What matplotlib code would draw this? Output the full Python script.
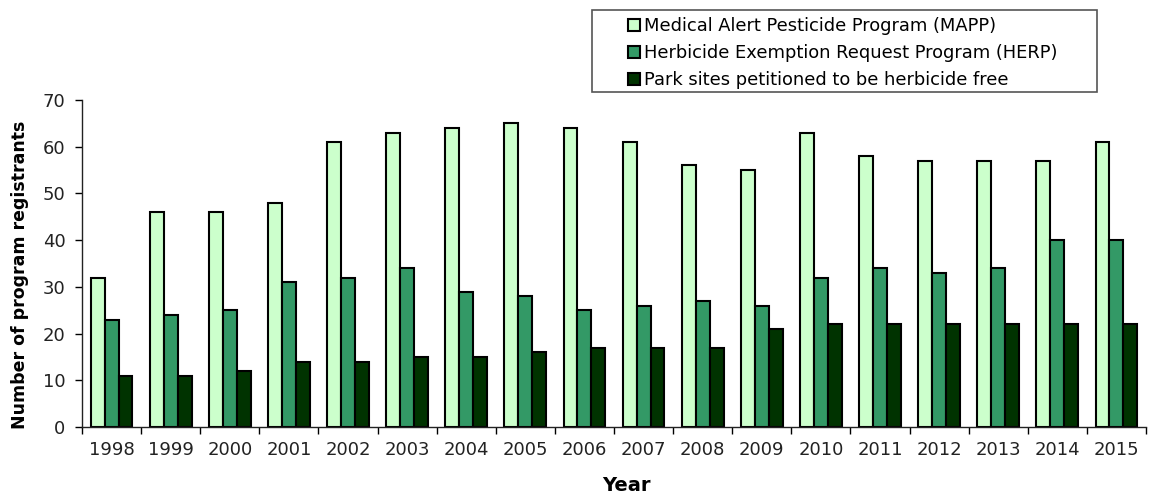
import numpy as np
import matplotlib
matplotlib.use("Agg")
import matplotlib.pyplot as plt
from matplotlib.patches import Rectangle

plt.rcParams['font.family'] = ['DejaVu Sans']

years = [str(y) for y in range(1998, 2016)]
mapp = [32, 46, 46, 48, 61, 63, 64, 65, 64, 61, 56, 55, 63, 58, 57, 57, 57, 61]
herp = [23, 24, 25, 31, 32, 34, 29, 28, 25, 26, 27, 26, 32, 34, 33, 34, 40, 40]
parks = [11, 11, 12, 14, 14, 15, 15, 16, 17, 17, 17, 21, 22, 22, 22, 22, 22, 22]

series = [
    ("Medical Alert Pesticide Program (MAPP)", mapp, "#ccffcc"),
    ("Herbicide Exemption Request Program (HERP)", herp, "#339966"),
    ("Park sites petitioned to be herbicide free", parks, "#003300"),
]

W, H = 1154, 497
fig = plt.figure(figsize=(W / 100, H / 100), dpi=100)
ax = fig.add_axes([82 / W, 1 - 427 / H, 1064 / W, 327 / H])

x = np.arange(len(years))
w = 0.235
for i, (name, vals, col) in enumerate(series):
    ax.bar(x + (i - 1) * w, vals, w, color=col, edgecolor="black",
           linewidth=1.5, label=name)

ax.set_xlim(-0.5, len(years) - 0.5)
ax.set_ylim(0, 70)
ax.set_yticks(range(0, 71, 10))
ax.set_xticks(x)
ax.set_xticklabels(years)
ax.set_xticks(np.arange(-0.5, len(years), 1), minor=True)
ax.tick_params(axis="x", which="major", length=0, labelsize=13, pad=10, labelcolor="#222222")
ax.tick_params(axis="x", which="minor", length=5, width=1, direction="out")
ax.tick_params(axis="y", length=5, width=1, labelsize=13, labelcolor="#222222", pad=7)

for s in ["top", "right"]:
    ax.spines[s].set_visible(False)
for s in ["left", "bottom"]:
    ax.spines[s].set_linewidth(1)
    ax.spines[s].set_color("#222222")

ax.set_ylabel("Number of program registrants", fontsize=12.5, fontweight="bold")
ax.yaxis.set_label_coords(-53 / 1064, 0.465)
ax.set_xlabel("Year", fontsize=14, fontweight="bold")
ax.xaxis.set_label_coords(0.5 + (626 - 614) / 1064, -49 / 327)

# legend box drawn separately so its padding can be wider than tall
fig.patches.append(Rectangle((592 / W, 1 - 92 / H), 505 / W, 82 / H,
                             transform=fig.transFigure, facecolor="white",
                             edgecolor="#555555", linewidth=1.2))
leg = fig.legend(loc="upper left", bbox_to_anchor=(628 / W, 1 - 17 / H), fontsize=12.9,
                 frameon=False, handlelength=0.65, handleheight=0.65, handletextpad=0.25,
                 borderpad=0, labelspacing=0.5, borderaxespad=0)
for h in leg.legend_handles:
    h.set_linewidth(1.5)

fig.savefig("out.png", dpi=100)
